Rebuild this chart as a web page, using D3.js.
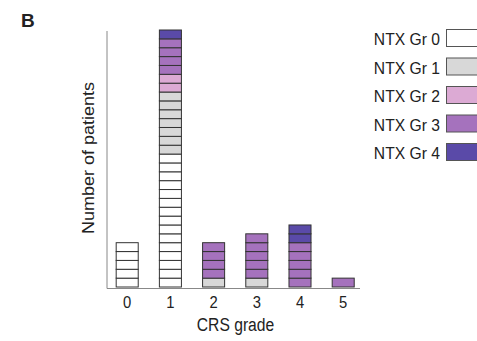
<!DOCTYPE html>
<html lang="en">
<head>
  <meta charset="UTF-8">
  <title>CRS grade</title>
  <script src="https://d3js.org/d3.v7.min.js"></script>
  <style>
    body { margin: 0; background: #fff; }
    text { font-family: "Liberation Sans", Arial, sans-serif; fill: #222; }
  </style>
</head>
<body>
  <div id="chart"></div>
  <script>

    // CRS grade categories and patient counts per NTX grade
    const grades = ["0", "1", "2", "3", "4", "5"];
    const ntxGr0 = [5, 15, 0, 0, 0, 0];
    const ntxGr1 = [0, 7, 1, 1, 0, 0];
    const ntxGr2 = [0, 2, 0, 0, 0, 0];
    const ntxGr3 = [0, 4, 4, 5, 5, 1];
    const ntxGr4 = [0, 1, 0, 0, 2, 0];
    const legendLabels = ["NTX Gr 0", "NTX Gr 1", "NTX Gr 2", "NTX Gr 3", "NTX Gr 4"];
    const colors = ["#ffffff", "#d8d8d8", "#dcaad4", "#a572bd", "#5a4aa8"];

    const width = 477, height = 341;
    const squeeze = 0.87; // the original figure text looks narrow

    const svg = d3.select("#chart").append("svg")
      .attr("width", width)
      .attr("height", height);

    const rows = grades.map((g, i) => ({
      grade: g, g0: ntxGr0[i], g1: ntxGr1[i], g2: ntxGr2[i], g3: ntxGr3[i], g4: ntxGr4[i]
    }));
    const keys = ["g0", "g1", "g2", "g3", "g4"];
    const series = d3.stack().keys(keys)(rows);

    const x = d3.scaleBand()
      .domain(grades)
      .range([105.6, 364.8])
      .paddingInner(0.49)
      .paddingOuter(0.245);

    const y = d3.scaleLinear()
      .domain([0, 29])
      .range([287, 30]);

    // one small rect per patient
    series.forEach((s, si) => {
      s.forEach(d => {
        const g = d.data.grade;
        for (let k = d[0]; k < d[1]; k++) {
          svg.append("rect")
            .attr("x", x(g))
            .attr("y", y(k + 1))
            .attr("width", x.bandwidth())
            .attr("height", y(k) - y(k + 1))
            .attr("fill", colors[si])
            .attr("stroke", "#333")
            .attr("stroke-width", 1);
        }
      });
    });

    // axes
    svg.append("line")
      .attr("x1", 107).attr("x2", 107)
      .attr("y1", 31).attr("y2", 288.5)
      .attr("stroke", "#888").attr("stroke-width", 1);
    svg.append("line")
      .attr("x1", 107).attr("x2", 360)
      .attr("y1", 288.5).attr("y2", 288.5)
      .attr("stroke", "#888").attr("stroke-width", 1);

    svg.selectAll(".tick-label")
      .data(grades)
      .enter()
      .append("text")
      .attr("class", "tick-label")
      .attr("transform", d => `translate(${x(d) + x.bandwidth() / 2},308) scale(${squeeze},1)`)
      .attr("text-anchor", "middle")
      .attr("font-size", 17)
      .text(d => d);

    svg.append("text")
      .attr("transform", `translate(235.5,331) scale(${squeeze},1)`)
      .attr("text-anchor", "middle")
      .attr("font-size", 18)
      .text("CRS grade");

    svg.append("text")
      .attr("transform", `translate(94,158) scale(${squeeze},1) rotate(-90)`)
      .attr("text-anchor", "middle")
      .attr("font-size", 18)
      .text("Number of patients");

    svg.append("text")
      .attr("x", 21)
      .attr("y", 27)
      .attr("font-size", 19)
      .attr("font-weight", "bold")
      .text("B");

    // legend
    const legend = svg.selectAll(".legend")
      .data(legendLabels)
      .enter()
      .append("g")
      .attr("class", "legend")
      .attr("transform", (d, i) => `translate(0, ${29 + i * 28.5})`);

    legend.append("rect")
      .attr("x", 446.5).attr("y", 0.5)
      .attr("width", 40).attr("height", 17)
      .attr("fill", (d, i) => colors[i])
      .attr("stroke", "#555");

    legend.append("text")
      .attr("transform", `translate(440,16) scale(0.95,1)`)
      .attr("text-anchor", "end")
      .attr("font-size", 16.5)
      .text(d => d);

  </script>
</body>
</html>
